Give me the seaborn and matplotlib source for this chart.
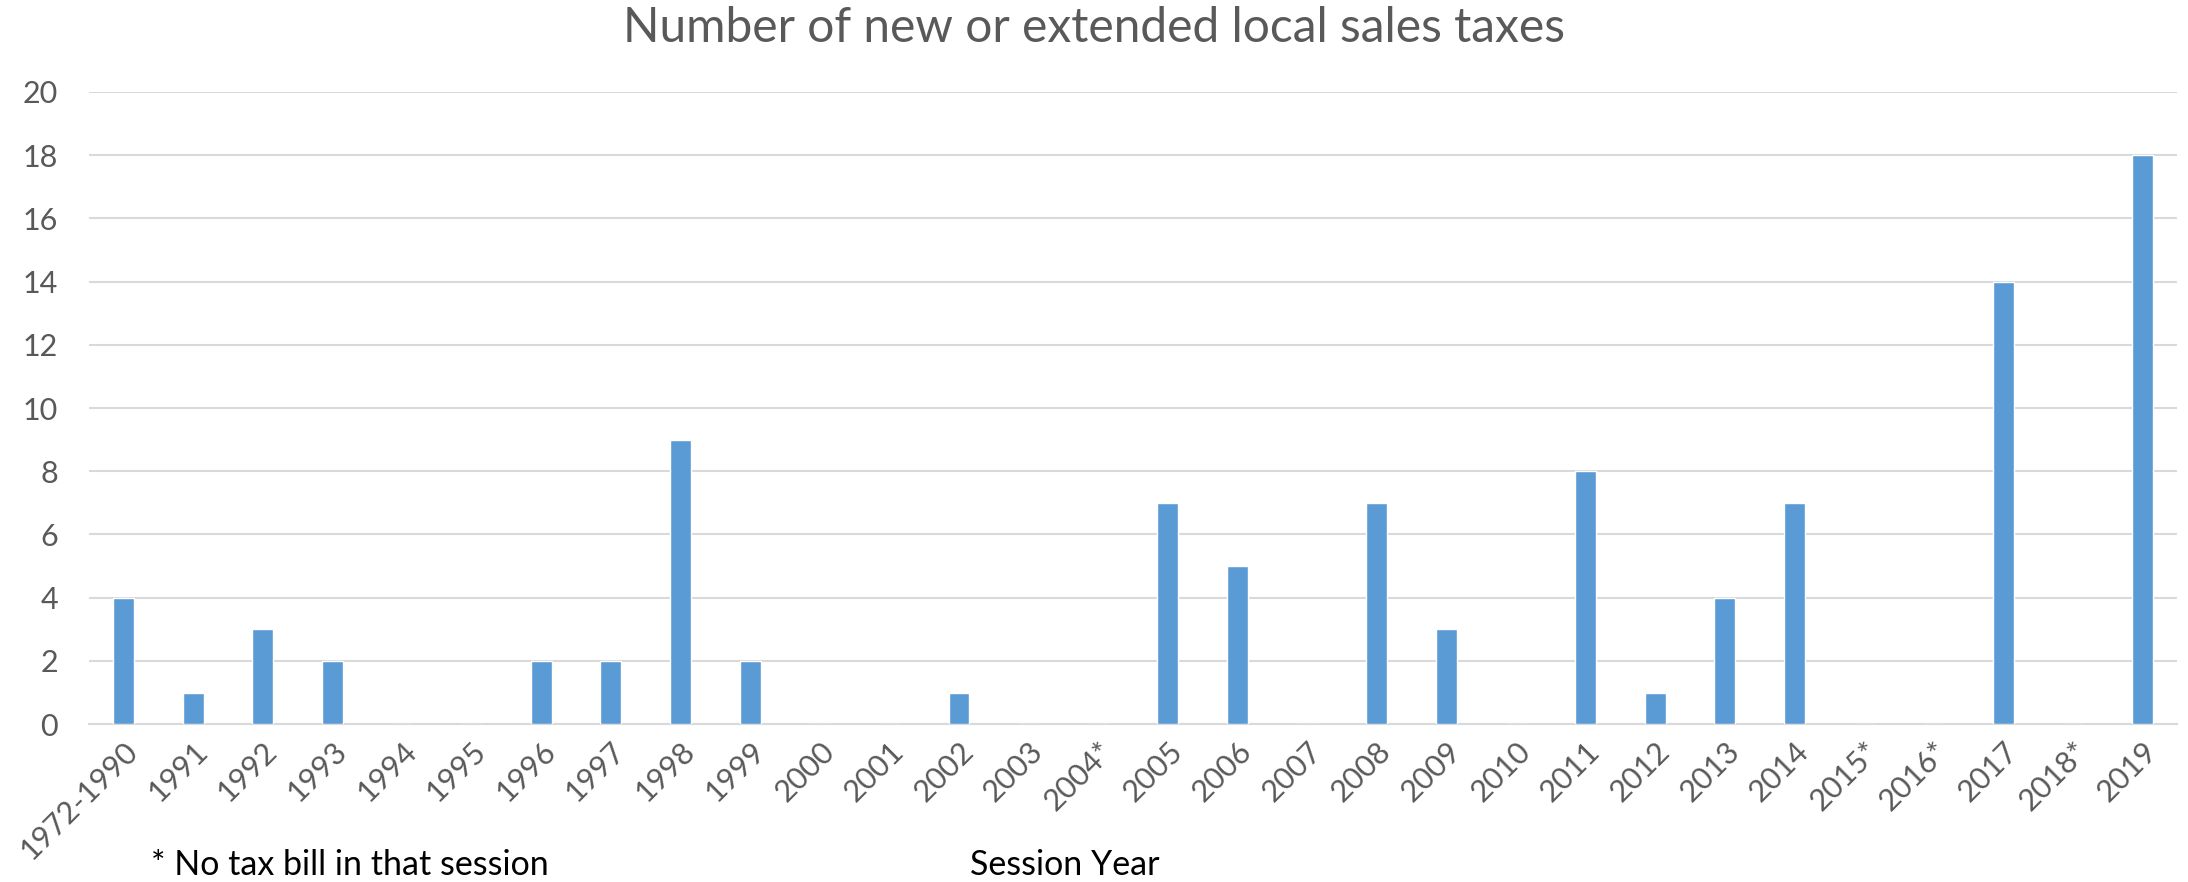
import matplotlib
matplotlib.use("Agg")
import matplotlib.pyplot as plt
import seaborn as sns
import pandas as pd

categories = ["1972-1990", "1991", "1992", "1993", "1994", "1995", "1996", "1997",
              "1998", "1999", "2000", "2001", "2002", "2003", "2004*", "2005",
              "2006", "2007", "2008", "2009", "2010", "2011", "2012", "2013",
              "2014", "2015*", "2016*", "2017", "2018*", "2019"]
values = [4, 1, 3, 2, 0, 0, 2, 2, 9, 2, 0, 0, 1, 0, 0, 7, 5, 0, 7, 3, 0, 8, 1, 4,
          7, 0, 0, 14, 0, 18]
y_ticks = list(range(0, 21, 2))

title = "Number of new or extended local sales taxes"
x_label = "Session Year"
note = "* No tax bill in that session"

sns.set_theme(style="white")
plt.rcParams["font.family"] = ["Lato", "DejaVu Sans"]

text_color = "#595959"
grid_color = "#D9D9D9"
bar_color = "#5B9BD5"

df = pd.DataFrame({"cat": categories, "val": values})

fig = plt.figure(figsize=(21.88, 8.82), dpi=100)
ax = fig.add_axes([0.0405, 0.179, 0.9547, 0.7167])

sns.barplot(data=df, x="cat", y="val", color=bar_color, width=0.30,
            saturation=1, ax=ax, order=categories, zorder=3)

ax.set_ylim(0, 20)
ax.set_xlim(-0.5, len(categories) - 0.5)
ax.set_yticks(y_ticks)
ax.yaxis.grid(True, color=grid_color, linewidth=1.5, zorder=0)
ax.set_axisbelow(True)
for s in ["left", "right", "top"]:
    ax.spines[s].set_visible(False)
ax.spines["bottom"].set_color(grid_color)
ax.spines["bottom"].set_linewidth(1.5)
ax.tick_params(axis="both", length=0, colors=text_color, labelsize=22)
ax.tick_params(axis="y", pad=22)
ax.tick_params(axis="x", pad=9)
ax.set_xticks(range(len(categories)))
ax.set_xticklabels(categories, rotation=45, ha="right", rotation_mode="anchor")
ax.set_xlabel("")
ax.set_ylabel("")

fig.text(0.5, 0.968, title, ha="center", va="center", fontsize=34.5, color=text_color)
fig.text(0.4868, 0.008, x_label, ha="center", va="baseline", fontsize=24.5, color="black")
fig.text(0.069, 0.008, note, ha="left", va="baseline", fontsize=24.5, color="black")

fig.savefig("out.png", dpi=100)
